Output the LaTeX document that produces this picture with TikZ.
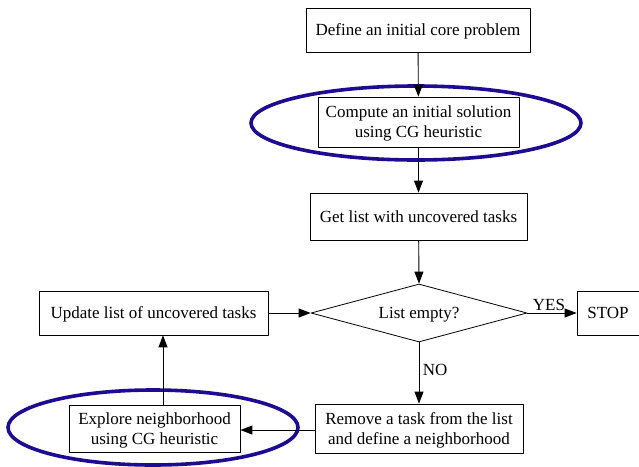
\documentclass[tikz,border=0pt]{standalone}
\usepackage{fontspec}
\setmainfont{Liberation Serif}
\usetikzlibrary{arrows.meta,shapes.geometric}

\tikzset{
  stepbox/.style={draw, line width=0.8pt, align=center, inner sep=0pt, text depth=0pt},
  decision/.style={draw, line width=0.8pt, diamond, aspect=3.7, inner sep=0pt},
  ring/.style={draw=ringblue, line width=3.6pt},
  flow/.style={line width=0.9pt, -{Triangle[length=12pt,width=9pt]}}
}
\definecolor{ringblue}{RGB}{28,12,145}

\begin{document}
\begin{tikzpicture}[x=1pt, y=-1pt, font=\fontsize{17}{20}\selectfont, line cap=round, line join=round]
\useasboundingbox (0,0) rectangle (639,466);

% Blue rings behind the heuristic steps
\draw[ring] (416,123) ellipse (165 and 37);
\draw[ring] (153,427.5) ellipse (145 and 37.5);

% Main column
\node[stepbox, minimum width=224pt, minimum height=44pt] (define) at (418,30) {Define an initial core problem};
\node[stepbox, fill=white, minimum width=201pt, minimum height=50pt] (compute) at (418.5,122) {Compute an initial solution\\using CG heuristic};
\node[stepbox, minimum width=217pt, minimum height=47pt] (get) at (418.5,216.5) {Get list with uncovered tasks};
\node[decision, minimum width=216pt, minimum height=58pt] (empty) at (419,313) {};
\node[text depth=0pt] at (419,313) {List empty?};
\node[stepbox, minimum width=62pt, minimum height=44pt] (stop) at (608,313) {STOP};
\node[stepbox, fill=white, minimum width=208pt, minimum height=49pt] (remove) at (419,428.5) {Remove a task from the list\\and define a neighborhood};

% Left column
\node[stepbox, minimum width=229pt, minimum height=44pt] (update) at (153.5,313) {Update list of uncovered tasks};
\node[stepbox, fill=white, minimum width=171pt, minimum height=47pt] (explore) at (154.5,428.5) {Explore neighborhood\\using CG heuristic};

% Connectors
\draw[flow] (define) -- (compute);
\draw[flow] (compute) -- (get);
\draw[flow] (get) -- (empty.north);
\draw[flow] (empty.east) -- node[above, xshift=-3pt, yshift=-1pt] {YES} (stop);
\draw[flow] (empty.south) -- node[right, pos=0.45] {NO} (remove);
\draw[flow] (remove.west |- 0,430) -- (explore.east |- 0,430);
\coordinate (up) at (163,0);
\draw[flow] (explore.north -| up) -- (update.south -| up);
\draw[flow] (update) -- (empty.west);

\end{tikzpicture}
\end{document}
